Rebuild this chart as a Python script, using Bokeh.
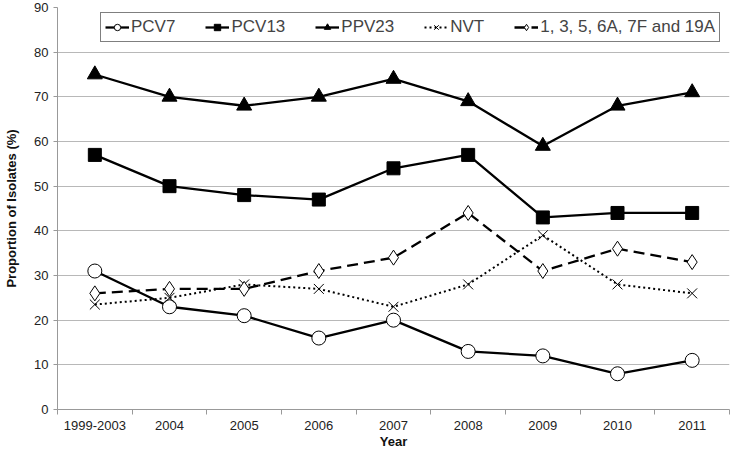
from bokeh.plotting import figure
from bokeh.models import FixedTicker, Legend, LegendItem, Range1d
from bokeh.embed import file_html
from bokeh.resources import INLINE

years = ["1999-2003", "2004", "2005", "2006", "2007", "2008", "2009", "2010", "2011"]
pcv7 = [31, 23, 21, 16, 20, 13, 12, 8, 11]
pcv13 = [57, 50, 48, 47, 54, 57, 43, 44, 44]
ppv23 = [75, 70, 68, 70, 74, 69, 59, 68, 71]
nvt = [23.5, 25, 28, 27, 23, 28, 39, 28, 26]
sero = [26, 27, 27, 31, 34, 44, 31, 36, 33]
y_ticks = [0, 10, 20, 30, 40, 50, 60, 70, 80, 90]

x = list(range(len(years)))
FONT = "Liberation Sans"

p = figure(width=731, height=451, output_backend="svg", toolbar_location=None,
           x_range=Range1d(-0.5, len(years) - 0.5), y_range=Range1d(0, 90),
           min_border_left=57, min_border_right=2, min_border_top=7, min_border_bottom=0)
p.outline_line_color = None
p.background_fill_color = "white"

# axes
p.xaxis.ticker = FixedTicker(ticks=x, minor_ticks=[i - 0.5 for i in range(len(years) + 1)])
p.xaxis.major_label_overrides = {i: years[i] for i in x}
p.xaxis.major_tick_out = 0
p.xaxis.major_tick_in = 0
p.xaxis.minor_tick_out = 5
p.xaxis.minor_tick_in = 0
p.xaxis.minor_tick_line_color = "#999999"
p.xaxis.axis_line_color = "#999999"
p.xaxis.axis_label = "Year"
p.xaxis.axis_label_standoff = 1
p.xaxis.major_label_standoff = 6

p.yaxis.ticker = FixedTicker(ticks=y_ticks)
p.yaxis.major_tick_out = 4
p.yaxis.major_tick_in = 0
p.yaxis.minor_tick_line_color = None
p.yaxis.major_tick_line_color = "#999999"
p.yaxis.axis_line_color = "#999999"
p.yaxis.axis_label = "Proportion of Isolates (%)"
p.yaxis.axis_label_standoff = 12

for ax in (p.xaxis, p.yaxis):
    ax.major_label_text_font = FONT
    ax.major_label_text_font_size = "13px"
    ax.major_label_text_color = "#222222"
    ax.axis_label_text_font = FONT
    ax.axis_label_text_font_size = "13px"
    ax.axis_label_text_font_style = "bold"
    ax.axis_label_text_color = "#111111"

p.xgrid.grid_line_color = None
p.ygrid.grid_line_color = "#b8b8b8"
p.ygrid.grid_line_width = 1.2

items = []

def series(vals, label, marker, fill, dash, lw, size):
    l = p.line(x, vals, line_color="black", line_width=lw, line_dash=dash)
    s = p.scatter(x, vals, marker=marker, size=size, fill_color=fill,
                  line_color="black", line_width=1)
    items.append(LegendItem(label=label, renderers=[l, s]))

series(pcv7, "PCV7", "circle", "white", "solid", 2.3, 14)
series(pcv13, "PCV13", "square", "black", "solid", 2.3, 13)
series(ppv23, "PPV23", "triangle", "black", "solid", 2.3, 15)
series(nvt, "NVT", "x", None, "2 3", 2.0, 14)
series(sero, "1, 3, 5, 6A, 7F and 19A", "diamond", "white", "11 6", 2.3, 15)

legend = Legend(items=items, orientation="horizontal", location=(43, 367),
                label_text_font=FONT, label_text_font_size="17px",
                border_line_color="black", border_line_width=1.5,
                background_fill_color="white", background_fill_alpha=1,
                glyph_width=24, glyph_height=16, label_standoff=2, spacing=30,
                padding=4, margin=0)
p.add_layout(legend)

open("out.html", "w").write(file_html(p, INLINE))
